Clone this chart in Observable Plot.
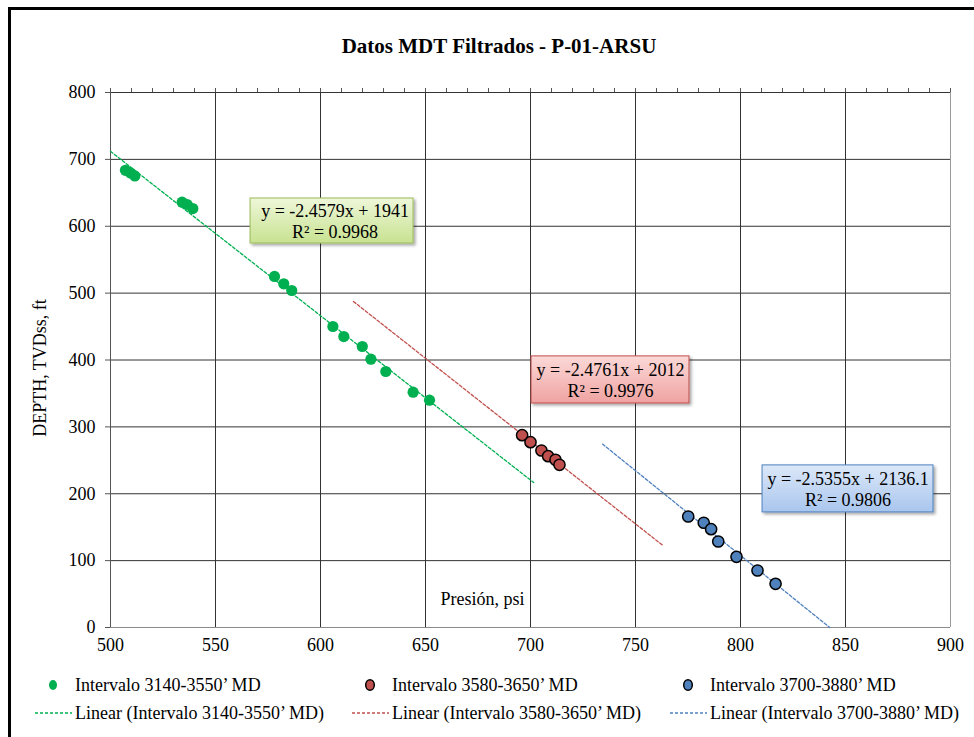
<!DOCTYPE html>
<html><head><meta charset="utf-8">
<script src="https://cdn.jsdelivr.net/npm/d3@7"></script>
<script src="https://cdn.jsdelivr.net/npm/@observablehq/plot@0.6"></script>
<style>
body{margin:0;background:#fff;}
#wrap{position:relative;width:974px;height:737px;overflow:hidden;font-family:"Liberation Serif","Times New Roman",serif;background:#fff;color:#000;}
#frame{position:absolute;left:8px;top:7px;width:990px;height:760px;border-left:3px solid #000;border-top:3px solid #000;pointer-events:none;}
#title{position:absolute;left:0;top:33px;width:998px;text-align:center;font-weight:bold;font-size:21px;line-height:26px;}
#chart{position:absolute;left:0;top:70px;}
#legend{position:absolute;left:0;top:660px;width:974px;height:77px;font-size:18px;}
.item{position:absolute;white-space:nowrap;line-height:20px;}
.mk{position:absolute;}
</style></head>
<body>
<div id="wrap">
  <div id="title">Datos MDT Filtrados - P-01-ARSU</div>
  <div id="chart"></div>
  <div id="legend"></div>
  <div id="frame"></div>
</div>
<script>
// ---- data ----
const seriesNames = ["Intervalo 3140-3550’ MD", "Intervalo 3580-3650’ MD", "Intervalo 3700-3880’ MD"];
const seriesColors = ["#00b050", "#c0504d", "#4f81bd"];

const greenPresion = [507.1, 509.5, 511.6, 534.1, 536.5, 539.2, 578.1, 582.5, 586.3, 605.9, 611.1, 619.9, 624.0, 631.1, 644.1, 651.9];
const greenDepth   = [683.7, 679.7, 675.2, 636.0, 632.5, 626.5, 524.9, 513.9, 503.9, 450.1, 435.1, 420.2, 401.2, 382.8, 351.9, 339.9];

const redPresion = [696.0, 700.0, 705.2, 708.4, 711.9, 713.8];
const redDepth   = [287.6, 277.1, 264.7, 256.2, 250.8, 243.3];

const bluePresion = [775.1, 782.5, 786.0, 789.4, 798.1, 808.1, 816.7];
const blueDepth   = [166.0, 156.6, 147.0, 128.6, 105.7, 85.2, 65.3];

// trendlines (from the equations shown on the chart)
const fitSlope     = [-2.4579, -2.4761, -2.5355];
const fitIntercept = [1941, 2012, 2136.1];
const fitR2        = ["0.9968", "0.9976", "0.9806"];
const fitEqText    = ["y = -2.4579x + 1941", "y = -2.4761x + 2012", "y = -2.5355x + 2136.1"];
const fitStart     = [500, 615.7, 734.3];
const fitEnd       = [701.5, 763.3, 842.5];

// equation label boxes (data coordinates)
const boxX1 = [566.7, 700.5, 810.5];
const boxX2 = [644.3, 775.7, 891.9];
const boxY1 = [574.2, 335.0, 172.1];
const boxY2 = [641.5, 405.4, 242.4];

const xTicks = [500, 550, 600, 650, 700, 750, 800, 850, 900];
const yTicks = [0, 100, 200, 300, 400, 500, 600, 700, 800];
const minorXTicks = d3.range(500, 901, 10);

// ---- build tables ----
const pres = [greenPresion, redPresion, bluePresion];
const deps = [greenDepth, redDepth, blueDepth];
const points = pres.map((arr, s) => arr.map((x, i) => ({s, x, y: deps[s][i]})));
const trends = fitSlope.map((m, s) => [fitStart[s], fitEnd[s]].map(x => ({s, x, y: m * x + fitIntercept[s]})));
const gradIds = ["gG", "gR", "gB"];
const borderCols = ["#9bbb59", "#c0504d", "#4f81bd"];
const boxes = fitSlope.map((m, s) => ({
  s, x1: boxX1[s], x2: boxX2[s], y1: boxY1[s], y2: boxY2[s],
  label: fitEqText[s] + "\nR² = " + fitR2[s]
}));

const marks = [
  Plot.gridX(xTicks.slice(1, -1), {stroke: "#333", strokeOpacity: 1}),
  Plot.gridY(yTicks.slice(1), {stroke: "#333", strokeOpacity: 1}),
  Plot.ruleY([0], {stroke: "#8a8a8a"}),
  Plot.ruleX([900], {stroke: "#9a9a9a"}),
  Plot.ruleX([500], {stroke: "#555"}),
  Plot.ruleX(minorXTicks, {y1: 800, y2: 800, insetTop: -4, stroke: "#555"}),
  Plot.axisY(yTicks, {tickSize: 5, tickPadding: 10, label: null, stroke: "#555", fontSize: 18}),
  Plot.axisX(xTicks, {tickSize: 0, tickPadding: 11, label: null, fontSize: 18}),
  Plot.text(["DEPTH, TVDss, ft"], {frameAnchor: "left", textAnchor: "middle", rotate: -90, dx: -70, dy: 8, fontSize: 18, fill: "#000"}),
  Plot.text(["Presión, psi"], {frameAnchor: "bottom", dx: -48, dy: -23, fontSize: 18, fill: "#000"}),
];
trends.forEach((t, s) => marks.push(Plot.line(t, {x: "x", y: "y", stroke: seriesColors[s], strokeWidth: 1.3, strokeDasharray: "3,2"})));
points.forEach((p, s) => marks.push(Plot.dot(p, {
  x: "x", y: "y", r: 5.6, fill: seriesColors[s],
  stroke: s === 0 ? "none" : "#000", strokeWidth: 1.5
})));
boxes.forEach((b, s) => {
  marks.push(Plot.rect([b], {x1: "x1", x2: "x2", y1: "y1", y2: "y2", fill: `url(#${gradIds[s]})`, stroke: borderCols[s], strokeWidth: 1}));
  marks.push(Plot.text([b], {x: d => (d.x1 + d.x2) / 2, y: d => (d.y1 + d.y2) / 2, text: "label", lineHeight: 1.15, fontSize: 18, fill: "#000", dx: s === 0 ? 3 : 0}));
});

const svg = Plot.plot({
  width: 974, height: 590,
  marginLeft: 110, marginRight: 24, marginTop: 22, marginBottom: 33,
  x: {domain: [500, 900]},
  y: {domain: [0, 800]},
  style: {fontFamily: '"Liberation Serif", "Times New Roman", serif', fontSize: "18px", color: "#000", background: "transparent", overflow: "visible"},
  marks
});

// gradients + shadow
const defs = d3.select(svg).insert("defs", ":first-child");
const gradStops = [["#eef7d9", "#c8e291"], ["#fbd9d8", "#efa3a1"], ["#dce8f8", "#a9c6ee"]];
gradIds.forEach((id, i) => {
  const g = defs.append("linearGradient").attr("id", id).attr("x1", 0).attr("y1", 0).attr("x2", 0).attr("y2", 1);
  g.append("stop").attr("offset", "0%").attr("stop-color", gradStops[i][0]);
  g.append("stop").attr("offset", "100%").attr("stop-color", gradStops[i][1]);
});
const f = defs.append("filter").attr("id", "shadow").attr("x", "-10%").attr("y", "-10%").attr("width", "130%").attr("height", "140%");
f.append("feDropShadow").attr("dx", 2).attr("dy", 2).attr("stdDeviation", 1.5).attr("flood-color", "#000").attr("flood-opacity", 0.35);
svg.querySelectorAll('[fill^="url"]').forEach(el => el.setAttribute("filter", "url(#shadow)"));

document.getElementById("chart").appendChild(svg);

// legend
const leg = document.getElementById("legend");
const legX = [35, 352, 670];
seriesNames.forEach((name, s) => {
  const x0 = legX[s];
  // marker row
  const ms = document.createElementNS("http://www.w3.org/2000/svg", "svg");
  ms.setAttribute("width", 16); ms.setAttribute("height", 16);
  ms.setAttribute("class", "mk");
  ms.style.left = (x0 + 10) + "px"; ms.style.top = "17px";
  const e = document.createElementNS("http://www.w3.org/2000/svg", "ellipse");
  e.setAttribute("cx", 8); e.setAttribute("cy", 8);
  e.setAttribute("rx", s === 0 ? 4 : 4.3); e.setAttribute("ry", s === 0 ? 5 : 5.3);
  e.setAttribute("fill", seriesColors[s]);
  if (s > 0) { e.setAttribute("stroke", "#000"); e.setAttribute("stroke-width", 1.5); }
  ms.appendChild(e); leg.appendChild(ms);
  const t1 = document.createElement("div");
  t1.className = "item"; t1.style.left = (x0 + 40) + "px"; t1.style.top = "15px";
  t1.textContent = name; leg.appendChild(t1);
  // line row
  const ls = document.createElementNS("http://www.w3.org/2000/svg", "svg");
  ls.setAttribute("width", 40); ls.setAttribute("height", 6);
  ls.setAttribute("class", "mk");
  ls.style.left = x0 + "px"; ls.style.top = "50px";
  const l = document.createElementNS("http://www.w3.org/2000/svg", "line");
  l.setAttribute("x1", 0); l.setAttribute("x2", 37); l.setAttribute("y1", 3); l.setAttribute("y2", 3);
  l.setAttribute("stroke", seriesColors[s]); l.setAttribute("stroke-width", 1.3); l.setAttribute("stroke-dasharray", "3,2");
  ls.appendChild(l); leg.appendChild(ls);
  const t2 = document.createElement("div");
  t2.className = "item"; t2.style.left = (x0 + 40) + "px"; t2.style.top = "43px";
  t2.textContent = "Linear (" + name + ")"; leg.appendChild(t2);
});
</script>
</body></html>
